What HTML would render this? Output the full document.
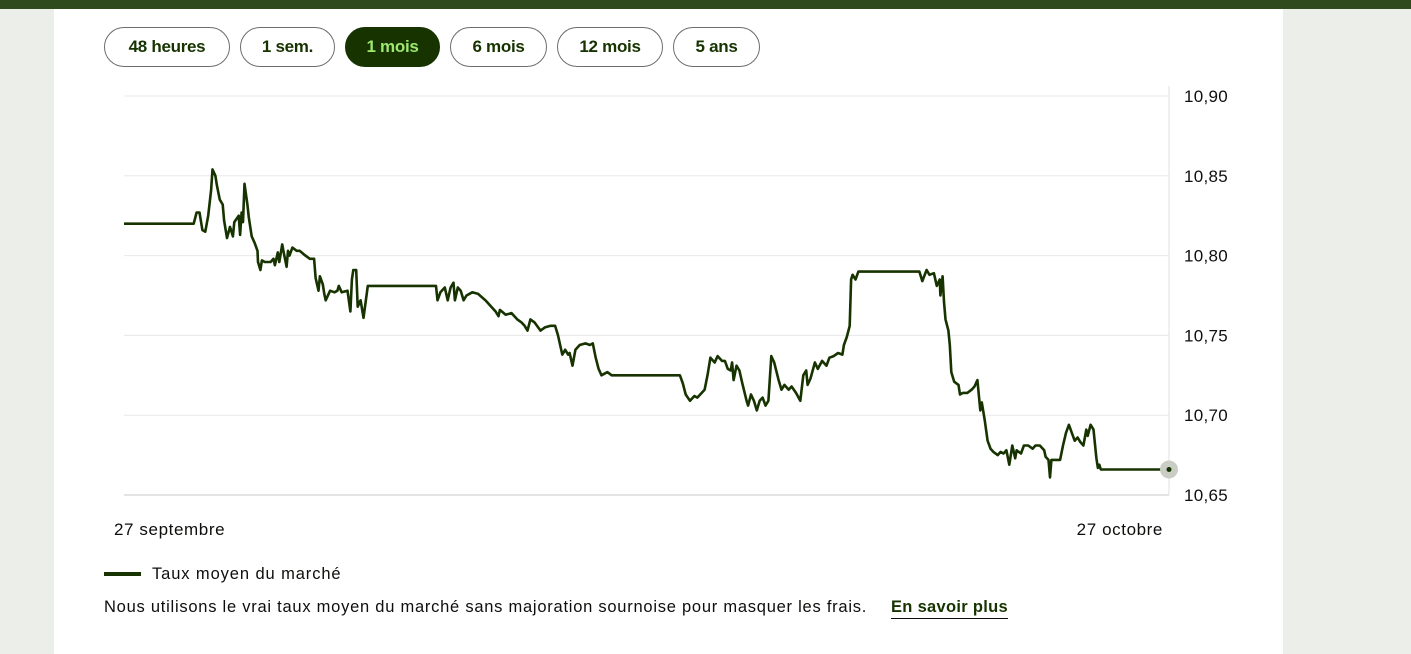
<!DOCTYPE html>
<html><head><meta charset="utf-8"><style>
body{margin:0;width:1411px;height:654px;background:#eceeea;font-family:"Liberation Sans",sans-serif;overflow:hidden;position:relative}
.top{position:absolute;left:0;top:0;width:1411px;height:9px;background:#2f4a1c}
.panel{position:absolute;left:54px;top:9px;width:1229px;height:645px;background:#fff}
.btn{position:absolute;top:27px;height:38px;border:1px solid #6d6d6d;border-radius:20px;box-sizing:content-box;font-weight:bold;font-size:17px;color:#163300;text-align:center;line-height:38px;background:#fff;letter-spacing:-0.3px}
.btn.active{background:#163300;color:#9fe870;border-color:#163300}
.t{position:absolute;font-size:17px;color:#0e0f0c;white-space:nowrap}
</style></head><body>
<div class="top"></div>
<div class="panel"></div>
<div class="btn" style="left:104px;width:124px">48 heures</div>
<div class="btn" style="left:240px;width:93px">1 sem.</div>
<div class="btn active" style="left:345px;width:93px">1 mois</div>
<div class="btn" style="left:450px;width:95px">6 mois</div>
<div class="btn" style="left:557px;width:104px">12 mois</div>
<div class="btn" style="left:673px;width:85px">5 ans</div>
<svg id="chart" width="1411" height="654" style="position:absolute;left:0;top:0"></svg>
<div style="position:absolute;left:104px;top:572px;width:37px;height:4px;background:#163300"></div>
<div class="t" style="left:152px;top:565px;font-size:16.5px;letter-spacing:0.9px">Taux moyen du marché</div>
<div class="t" style="left:104px;top:598px;font-size:16.5px;letter-spacing:0.75px">Nous utilisons le vrai taux moyen du marché sans majoration sournoise pour masquer les frais.</div>
<div class="t" style="left:891px;top:598px;font-size:16.5px;font-weight:bold;letter-spacing:0.3px;border-bottom:1px solid #0e0f0c;padding-bottom:1px;color:#163300">En savoir plus</div>
<script>
const hours=[0,48,50,52,54,56,58,60,61,63,64,66,68,69,71,73,75,76,79,80,81,82,83,85,86,88,90,92,92.3,94,95,97,101,103,104,106,107,109,110,112,113,114,116,119,121,125,128,131,132,134,135,137,138,139,142,145,147,148,150,154,156,157,158,160,161,163,165,168,215,216,218,221,223,225,227,228,230,232,234,236,240,244,249,252,256,258,259,263,267,271,274,276,278,280,283,287,290,294,297,299,302,304,306,307,309,311,314,318,321,323,325,327,329,331,333,336,383,385,387,390,393,395,397,400,402,404,407,409,412,414,416,418,419,420,422,424,426,429,430,432,434,436,438,440,442,444,446,448,451,453,455,458,460,463,466,468,470,471,473,476,478,481,484,486,489,492,495,496,498,500,501,502,504,506,548,550,553,555,558,560,562,562.5,564,565,566,568,569,570,572,575,576,578,581,584,586,588,590,591,593,595,597,599,602,604,606,608,610,612,614,615,618,620,623,626,628,631,634,635,637,638,639,642,645,647,649,651,653,655,657,659,661,663,664,666,668,670,671,672,673,720];
const rates=[10.820,10.820,10.827,10.827,10.816,10.815,10.825,10.841,10.854,10.850,10.844,10.835,10.832,10.822,10.811,10.818,10.812,10.821,10.825,10.813,10.827,10.821,10.845,10.832,10.824,10.812,10.808,10.803,10.796,10.791,10.797,10.796,10.796,10.798,10.794,10.802,10.796,10.807,10.802,10.793,10.803,10.800,10.805,10.803,10.803,10.800,10.798,10.798,10.786,10.778,10.787,10.782,10.776,10.772,10.778,10.777,10.778,10.781,10.777,10.778,10.765,10.785,10.791,10.791,10.768,10.772,10.761,10.781,10.781,10.772,10.777,10.780,10.772,10.780,10.783,10.772,10.780,10.778,10.772,10.775,10.777,10.776,10.772,10.769,10.765,10.762,10.766,10.763,10.764,10.760,10.758,10.756,10.753,10.760,10.758,10.753,10.755,10.756,10.756,10.750,10.738,10.741,10.738,10.739,10.731,10.741,10.744,10.745,10.744,10.745,10.736,10.729,10.725,10.726,10.727,10.725,10.725,10.720,10.713,10.709,10.712,10.711,10.713,10.716,10.725,10.736,10.733,10.737,10.734,10.734,10.729,10.728,10.733,10.722,10.731,10.728,10.720,10.709,10.706,10.713,10.709,10.703,10.709,10.711,10.706,10.709,10.737,10.733,10.722,10.716,10.719,10.716,10.718,10.714,10.709,10.725,10.728,10.719,10.723,10.733,10.729,10.734,10.731,10.736,10.737,10.739,10.738,10.744,10.749,10.756,10.785,10.788,10.785,10.790,10.790,10.784,10.791,10.788,10.789,10.781,10.785,10.775,10.787,10.771,10.760,10.753,10.744,10.727,10.721,10.719,10.713,10.714,10.714,10.716,10.718,10.722,10.703,10.708,10.697,10.684,10.679,10.677,10.675,10.677,10.676,10.678,10.669,10.681,10.673,10.678,10.676,10.681,10.681,10.679,10.681,10.681,10.678,10.674,10.672,10.661,10.672,10.672,10.672,10.681,10.689,10.694,10.689,10.684,10.686,10.683,10.681,10.691,10.687,10.694,10.691,10.673,10.667,10.669,10.666,10.666];
const yTicks=[10.90,10.85,10.80,10.75,10.70,10.65];
const xLabels=["27 septembre","27 octobre"];
const X0=124,X1=1169,Y0=96,Y1=495,HMAX=720,VMIN=10.65,VMAX=10.90;
const sx=h=>X0+h/HMAX*(X1-X0);
const sy=v=>Y0+(VMAX-v)/(VMAX-VMIN)*(Y1-Y0);
const svg=document.getElementById('chart');const NS='http://www.w3.org/2000/svg';
function mk(t,a){const e=document.createElementNS(NS,t);for(const k in a)e.setAttribute(k,a[k]);svg.appendChild(e);return e;}
yTicks.forEach(v=>{
  const l=mk('line',{x1:X0,x2:X1,y1:sy(v),y2:sy(v),stroke:v===VMIN?'#c8c8c8':'#e8e8e8','stroke-width':1});
  
  
  const t=mk('text',{x:1184,y:sy(v)+6,'font-size':17,fill:'#0e0f0c','letter-spacing':0.3,'font-family':'Liberation Sans, sans-serif'});
  t.textContent=v.toFixed(2).replace('.',',');
  
  
});
const ax=mk('line',{x1:X1,x2:X1,y1:86,y2:Y1,stroke:'#e0e0e0','stroke-width':1});


const xl1=mk('text',{x:114,y:535,'font-size':17,fill:'#0e0f0c','letter-spacing':0.6,'font-family':'Liberation Sans, sans-serif'});xl1.textContent=xLabels[0];


const xl2=mk('text',{x:1163,y:535,'font-size':17,fill:'#0e0f0c','letter-spacing':0.6,'text-anchor':'end','font-family':'Liberation Sans, sans-serif'});xl2.textContent=xLabels[1];


const d=hours.map((h,i)=>(i?'L':'M')+sx(h).toFixed(1)+' '+sy(rates[i]).toFixed(1)).join(' ');
const p=mk('path',{d:d,fill:'none',stroke:'#163300','stroke-width':2.6,'stroke-linejoin':'round'});


const n=hours.length-1;
const halo=mk('circle',{cx:sx(hours[n]),cy:sy(rates[n]),r:9,fill:'#c9cdc4'});


const dot=mk('circle',{cx:sx(hours[n]),cy:sy(rates[n]),r:2.5,fill:'#163300'});


</script>
</body></html>
